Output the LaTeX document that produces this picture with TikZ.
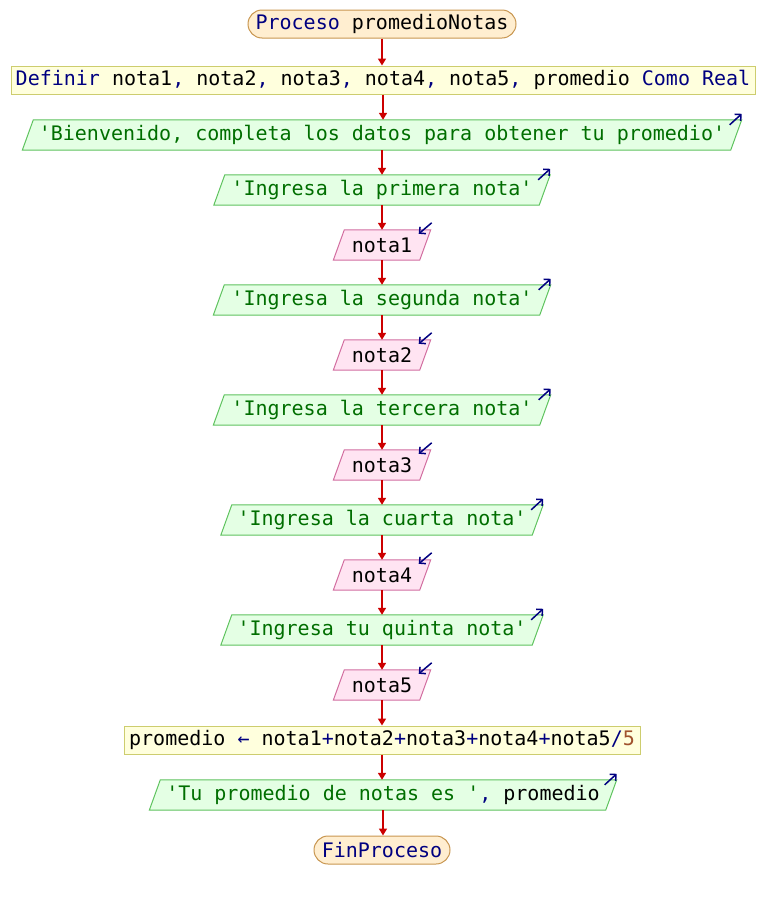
\documentclass[tikz,border=0pt]{standalone}
\usepackage{fontspec}
\setmonofont{DejaVu Sans Mono}
\usetikzlibrary{arrows.meta,backgrounds,calc}

\definecolor{kw}{RGB}{0,0,128}
\definecolor{strc}{RGB}{0,110,0}
\definecolor{numc}{RGB}{160,82,45}
\definecolor{flowc}{RGB}{204,0,0}
\definecolor{termfill}{RGB}{255,238,208}
\definecolor{termline}{RGB}{200,150,80}
\definecolor{procfill}{RGB}{255,255,221}
\definecolor{procline}{RGB}{205,205,110}
\definecolor{outfill}{RGB}{228,255,228}
\definecolor{outline}{RGB}{95,195,95}
\definecolor{infill}{RGB}{255,228,242}
\definecolor{inline}{RGB}{210,110,160}

\tikzset{
  base/.style={font=\ttfamily\fontsize{20}{22}\selectfont, inner sep=0pt, minimum height=28pt},
  term/.style={base, draw=termline, fill=termfill, line width=1pt, rounded corners=14pt},
  proc/.style={base, draw=procline, fill=procfill, line width=1pt},
  io/.style={base, minimum height=30pt},
  outshape/.style={draw=outline, fill=outfill, line width=1pt},
  inshape/.style={draw=inline, fill=infill, line width=1pt},
  flow/.style={draw=flowc, line width=1.6pt, -{Triangle[length=7pt,width=8pt]}},
  icon/.style={draw=kw, line width=1.5pt, -{Straight Barb[length=4.5pt,width=9pt]}}
}

\begin{document}
\begin{tikzpicture}[x=1pt,y=-1pt]
\useasboundingbox (0,0) rectangle (764,900);

\node[term, minimum width=268] (start) at (382,24) {\textcolor{kw}{Proceso} promedioNotas};
\node[proc, minimum width=744] (def) at (383,80) {\textcolor{kw}{Definir} nota1\textcolor{kw}{,} nota2\textcolor{kw}{,} nota3\textcolor{kw}{,} nota4\textcolor{kw}{,} nota5\textcolor{kw}{,} promedio \textcolor{kw}{Como Real}};

\node[io, minimum width=708] (o1) at (382,135) {\textcolor{strc}{'Bienvenido, completa los datos para obtener tu promedio'}};
\node[io, minimum width=325] (o2) at (382,190) {\textcolor{strc}{'Ingresa la primera nota'}};
\node[io, minimum width=86]  (i1) at (382,245) {nota1};
\node[io, minimum width=326] (o3) at (382,300) {\textcolor{strc}{'Ingresa la segunda nota'}};
\node[io, minimum width=86]  (i2) at (382,355) {nota2};
\node[io, minimum width=326] (o4) at (382,410) {\textcolor{strc}{'Ingresa la tercera nota'}};
\node[io, minimum width=86]  (i3) at (382,465) {nota3};
\node[io, minimum width=311] (o5) at (382,520) {\textcolor{strc}{'Ingresa la cuarta nota'}};
\node[io, minimum width=86]  (i4) at (382,575) {nota4};
\node[io, minimum width=311] (o6) at (382,630) {\textcolor{strc}{'Ingresa tu quinta nota'}};
\node[io, minimum width=86]  (i5) at (382,685) {nota5};

\node[proc, minimum width=516] (asg) at (382,740) {promedio \textcolor{kw}{←} nota1\textcolor{kw}{+}nota2\textcolor{kw}{+}nota3\textcolor{kw}{+}nota4\textcolor{kw}{+}nota5\textcolor{kw}{/}\textcolor{numc}{5}};
\node[io, minimum width=456] (o7) at (383,795) {\textcolor{strc}{'Tu promedio de notas es '}\textcolor{kw}{,} promedio};
\node[term, minimum width=136] (fin) at (382,850) {\textcolor{kw}{FinProceso}};

% parallelogram outlines behind the texts
\begin{scope}[on background layer]
  \foreach \n in {o1,o2,o3,o4,o5,o6,o7}
    \draw[outshape] ($(\n.north west)+(5.5,0)$) -- ($(\n.north east)+(5.5,0)$)
      -- ($(\n.south east)+(-5.5,0)$) -- ($(\n.south west)+(-5.5,0)$) -- cycle;
  \foreach \n in {i1,i2,i3,i4,i5}
    \draw[inshape] ($(\n.north west)+(5.5,0)$) -- ($(\n.north east)+(5.5,0)$)
      -- ($(\n.south east)+(-5.5,0)$) -- ($(\n.south west)+(-5.5,0)$) -- cycle;
\end{scope}

% output / input markers
\foreach \n in {o1,o2,o3,o4,o5,o6,o7}
  \draw[icon] ($(\n.north east)+(-6.5,5)$) -- ($(\n.north east)+(5.5,-6)$);
\foreach \n in {i1,i2,i3,i4,i5}
  \draw[icon] ($(\n.north east)+(6.5,-7)$) -- ($(\n.north east)+(-6.5,4)$);

% flow connectors
\foreach \a/\b in {start/def,def/o1,o1/o2,o2/i1,i1/o3,o3/i2,i2/o4,o4/i3,i3/o5,o5/i4,i4/o6,o6/i5,i5/asg,asg/o7,o7/fin}
  \draw[flow] (\a.south) -- (\a.south |- \b.north);
\end{tikzpicture}
\end{document}
